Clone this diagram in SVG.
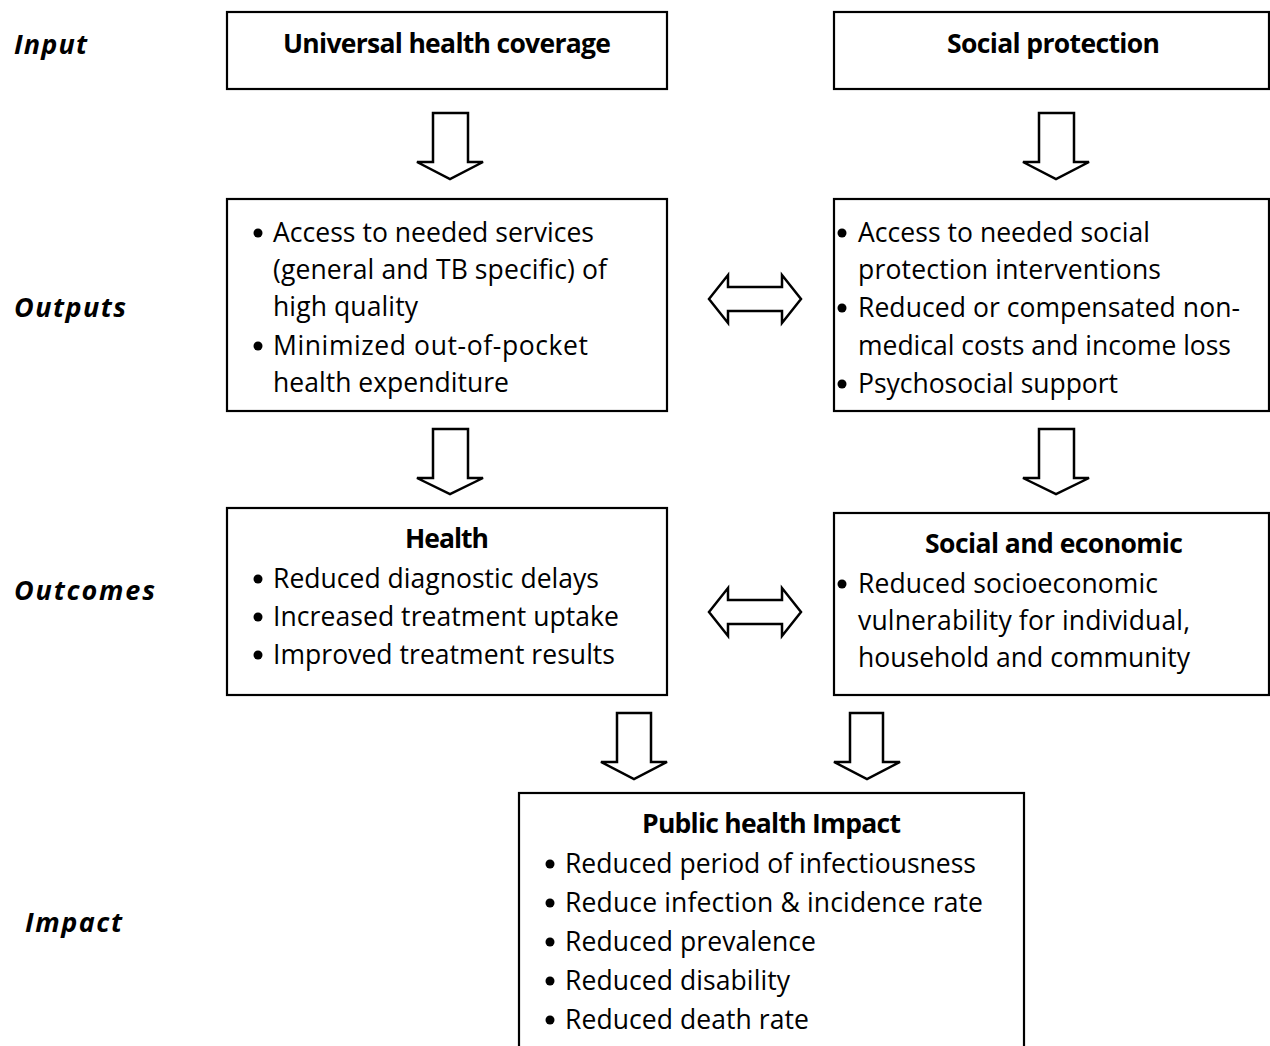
<svg xmlns="http://www.w3.org/2000/svg" width="1270" height="1046" viewBox="0 0 1270 1046">
<style>
.box{fill:#fff;stroke:#000;stroke-width:2.2}
.arr{fill:#fff;stroke:#000;stroke-width:2.5;stroke-linejoin:miter}
text{font-family:"Open Sans","Noto Sans",sans-serif;font-size:26.5px;fill:#000}
.b{font-weight:bold}
.lab{font-weight:bold;font-style:italic;font-size:27px}
.dot{fill:#000}
</style>
<defs><circle id="bullet" r="4.5" class="dot"/></defs>
<rect width="1270" height="1046" fill="#fff"/>
<g id="labels">
<text class="lab" x="14" y="54" textLength="73">Input</text>
<text class="lab" x="14" y="317" textLength="112">Outputs</text>
<text class="lab" x="14" y="600" textLength="141">Outcomes</text>
<text class="lab" x="25" y="932" textLength="97">Impact</text>
</g>
<g id="connectors">
<path class="arr" d="M433,113 H468 V162 H483 L450,179 L417,162 H433 Z"/>
<path class="arr" d="M1039,113 H1074 V162 H1089 L1056,179 L1023,162 H1039 Z"/>
<path class="arr" d="M433,429 H468 V478 H483 L450,494 L417,478 H433 Z"/>
<path class="arr" d="M1039,429 H1074 V478 H1089 L1056,494 L1023,478 H1039 Z"/>
<path class="arr" d="M617,713 H651 V762 H667 L634,779 L601,762 H617 Z"/>
<path class="arr" d="M850,713 H883 V762 H900 L867,779 L834,762 H850 Z"/>
<path class="arr" d="M709,299 L728,275 V287 H782 V275 L801,299 L782,323 V311 H728 V323 Z"/>
<path class="arr" d="M709,612 L728,588 V600 H782 V588 L801,612 L782,636 V624 H728 V636 Z"/>
</g>
<g id="uhc">
<rect class="box" x="227" y="12" width="440" height="77"/>
<text class="b" x="283" y="53" textLength="328">Universal health coverage</text>
</g>
<g id="sp">
<rect class="box" x="834" y="12" width="435" height="77"/>
<text class="b" x="947" y="53" textLength="213">Social protection</text>
</g>
<g id="outputs-health">
<rect class="box" x="227" y="199" width="440" height="212"/>
<use href="#bullet" x="258" y="233"/>
<text x="273" y="242" textLength="321">Access to needed services</text>
<text x="273" y="279" textLength="334">(general and TB specific) of</text>
<text x="273" y="316" textLength="145">high quality</text>
<use href="#bullet" x="258" y="346"/>
<text x="273" y="355" textLength="315">Minimized  out-of-pocket</text>
<text x="273" y="392" textLength="236">health expenditure</text>
</g>
<g id="outputs-social">
<rect class="box" x="834" y="199" width="435" height="212"/>
<use href="#bullet" x="842" y="233"/>
<text x="858" y="242" textLength="292">Access to needed social</text>
<text x="858" y="279" textLength="303">protection interventions</text>
<use href="#bullet" x="842" y="308"/>
<text x="858" y="317" textLength="382">Reduced or compensated non-</text>
<text x="858" y="355" textLength="373">medical costs and income loss</text>
<use href="#bullet" x="842" y="384"/>
<text x="858" y="393" textLength="260">Psychosocial support</text>
</g>
<g id="outcomes-health">
<rect class="box" x="227" y="508" width="440" height="187"/>
<text class="b" x="405" y="548" textLength="84">Health</text>
<use href="#bullet" x="258" y="579"/>
<text x="273" y="588" textLength="326">Reduced diagnostic delays</text>
<use href="#bullet" x="258" y="617"/>
<text x="273" y="626" textLength="346">Increased treatment uptake</text>
<use href="#bullet" x="258" y="655"/>
<text x="273" y="664" textLength="342">Improved treatment results</text>
</g>
<g id="outcomes-social">
<rect class="box" x="834" y="513" width="435" height="182"/>
<text class="b" x="925" y="553" textLength="258">Social and economic</text>
<use href="#bullet" x="842" y="584"/>
<text x="858" y="593" textLength="300">Reduced socioeconomic</text>
<text x="858" y="630" textLength="332">vulnerability for individual,</text>
<text x="858" y="667" textLength="332">household and community</text>
</g>
<g id="impact">
<rect class="box" x="519" y="793" width="505" height="260"/>
<text class="b" x="642" y="833" textLength="259">Public health Impact</text>
<use href="#bullet" x="550" y="864"/>
<text x="565" y="873" textLength="411">Reduced period of infectiousness</text>
<use href="#bullet" x="550" y="903"/>
<text x="565" y="912" textLength="418">Reduce infection &amp; incidence rate</text>
<use href="#bullet" x="550" y="942"/>
<text x="565" y="951" textLength="251">Reduced prevalence</text>
<use href="#bullet" x="550" y="981"/>
<text x="565" y="990" textLength="225">Reduced disability</text>
<use href="#bullet" x="550" y="1020"/>
<text x="565" y="1029" textLength="244">Reduced death rate</text>
</g>
</svg>
